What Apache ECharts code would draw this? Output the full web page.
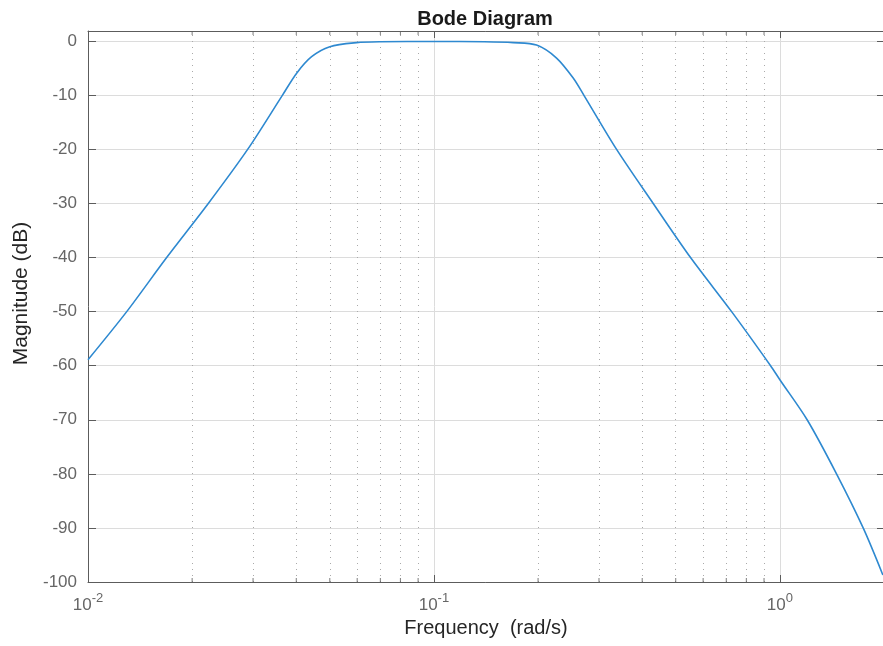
<!DOCTYPE html>
<html><head><meta charset="utf-8">
<script src="https://cdn.jsdelivr.net/npm/echarts@6/dist/echarts.min.js"></script>
<style>html,body{margin:0;padding:0;background:#fff}#c{width:883px;height:646px}</style>
</head><body><div id="c"></div>
<script>
// Frequency (rad/s) and magnitude (dB)
const freq = [0.01, 0.01294, 0.01688, 0.02227, 0.02894, 0.03646, 0.0401, 0.0443, 0.05, 0.0598, 0.07, 0.1, 0.14, 0.1695, 0.198, 0.2262, 0.2527, 0.2714, 0.3373, 0.4304, 0.5518, 0.7253, 0.940, 1.0, 1.199, 1.458, 1.741, 1.985];
const magDb = [-58.9, -50, -40, -30, -20, -10, -5.9, -2.85, -1.0, -0.25, -0.08, -0.03, -0.08, -0.25, -0.7, -3.1, -6.8, -10, -20, -30, -40, -50, -60, -62.6, -70, -80, -90, -98.7];
// minor decade positions (2..9 x 10^n)
const minorFreqs = [0.02, 0.03, 0.04, 0.05, 0.06, 0.07, 0.08, 0.09, 0.2, 0.3, 0.4, 0.5, 0.6, 0.7, 0.8, 0.9];
const xMin = 0.01, xMax = 2;
const yMin = -100, yMax = 1.9, yStep = 10;

const font = '"Liberation Sans", Arial, Helvetica, sans-serif';
const axisColor = '#5c5c5c';
const labelColor = '#666666';
const nameColor = '#262626';

function xFmt(v) {
  const e = Math.log10(v), r = Math.round(e);
  if (Math.abs(e - r) > 1e-6) return '';
  return '{b|10}{s|' + r + '}';
}
function yFmt(v) {
  return Math.abs(v % yStep) < 1e-9 ? String(v) : '';
}

const chart = echarts.init(document.getElementById('c'), null, {renderer: 'canvas'});
const option = {
  animation: false,
  backgroundColor: '#ffffff',
  title: {
    text: 'Bode Diagram', left: 480, top: 4, textAlign: 'center',
    textStyle: {fontFamily: font, fontWeight: 'bold', fontSize: 20, color: '#1a1a1a'}
  },
  grid: {left: 88, top: 31, right: -1, bottom: 64, containLabel: false, outerBoundsMode: 'none'},
  xAxis: [{
    type: 'log', logBase: 10, min: xMin, max: xMax, position: 'bottom',
    name: 'Frequency  (rad/s)', nameLocation: 'middle', nameGap: 34,
    nameTextStyle: {fontFamily: font, fontSize: 20, color: nameColor},
    axisLine: {show: true, onZero: false, lineStyle: {color: axisColor, width: 1}},
    axisTick: {show: true, inside: true, length: 7, lineStyle: {color: axisColor}},
    axisLabel: {
      margin: 10, formatter: xFmt,
      rich: {
        b: {fontFamily: font, fontSize: 17, color: labelColor, lineHeight: 22, verticalAlign: 'bottom'},
        s: {fontFamily: font, fontSize: 13, color: labelColor, lineHeight: 22, verticalAlign: 'top'}
      }
    },
    splitLine: {show: true, lineStyle: {color: '#dcdcdc', width: 1}},
    minorTick: {show: false}, minorSplitLine: {show: false}
  }, {
    type: 'log', logBase: 10, min: xMin, max: xMax, position: 'top',
    axisLine: {show: true, onZero: false, lineStyle: {color: axisColor, width: 1}},
    axisTick: {show: true, inside: true, length: 7, lineStyle: {color: axisColor}},
    axisLabel: {show: false}, splitLine: {show: false}
  }],
  yAxis: [{
    type: 'value', min: yMin, max: yMax, interval: yStep, position: 'left',
    name: 'Magnitude (dB)', nameLocation: 'middle', nameGap: 48,
    nameTextStyle: {fontFamily: font, fontSize: 21, color: nameColor, padding: [0, 0, 0, 26]},
    axisLine: {show: true, onZero: false, lineStyle: {color: axisColor, width: 1}},
    axisTick: {show: true, inside: true, length: 8, lineStyle: {color: axisColor}},
    axisLabel: {margin: 11, formatter: yFmt, fontFamily: font, fontSize: 17, color: labelColor},
    splitLine: {show: true, lineStyle: {color: '#dcdcdc', width: 1}}
  }, {
    type: 'value', min: yMin, max: yMax, interval: yStep, position: 'right',
    axisLine: {show: true, onZero: false, lineStyle: {color: axisColor, width: 1}},
    axisTick: {show: true, inside: true, length: 7, lineStyle: {color: axisColor}},
    axisLabel: {show: false}, splitLine: {show: false}
  }],
  series: [{
    type: 'line', name: 'mag', data: freq.map((f, i) => [f, magDb[i]]),
    showSymbol: false, smooth: 0.3, z: 5,
    lineStyle: {color: '#2e89d0', width: 1.6},
    markLine: {
      silent: true, symbol: ['none', 'none'], label: {show: false}, animation: false,
      lineStyle: {type: [1, 5], color: '#aaaaaa', width: 1},
      emphasis: {disabled: true},
      data: minorFreqs.map(f => ({xAxis: f}))
    }
  }, {
    type: 'scatter', silent: true, clip: false, z: 6,
    data: minorFreqs.map(f => [f, yMin]),
    symbol: 'rect', symbolSize: [1, 4], symbolOffset: [0, -2],
    itemStyle: {color: axisColor}
  }, {
    type: 'scatter', silent: true, clip: false, z: 6,
    data: minorFreqs.map(f => [f, yMax]),
    symbol: 'rect', symbolSize: [1, 4], symbolOffset: [0, 2],
    itemStyle: {color: axisColor}
  }]
};
chart.setOption(option);
</script>
</body></html>
